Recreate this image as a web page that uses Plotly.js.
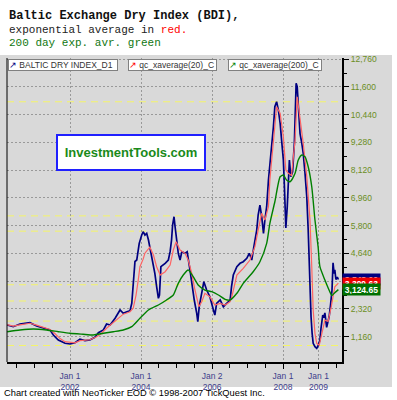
<!DOCTYPE html>
<html>
<head>
<meta charset="utf-8">
<script src="https://cdn.plot.ly/plotly-3.0.1.min.js"></script>
<style>html,body{margin:0;padding:0;background:#fff;}#chart{width:397px;height:400px;}</style>
</head>
<body>
<div id="chart"></div>
<script>
// ---- data (decimal years) ----
const bdiT = [2000.23,2000.40,2000.59,2000.87,2001.06,2001.30,2001.44,2001.53,2001.67,2001.86,
2002.00,2002.14,2002.28,2002.42,2002.56,2002.70,2002.80,2002.94,2003.03,2003.13,
2003.27,2003.41,2003.50,2003.60,2003.69,2003.74,2003.78,2003.83,2003.88,2003.95,
2004.02,2004.06,2004.11,2004.16,2004.21,2004.30,2004.39,2004.44,2004.49,2004.52,
2004.56,2004.68,2004.77,2004.82,2004.86,2004.89,2004.93,2004.96,2005.01,2005.05,
2005.10,2005.15,2005.24,2005.30,2005.38,2005.43,2005.50,2005.57,2005.60,2005.64,
2005.71,2005.77,2005.85,2005.94,2006.04,2006.08,2006.13,2006.23,2006.32,2006.41,
2006.51,2006.55,2006.60,2006.70,2006.79,2006.88,2006.98,2007.05,2007.12,2007.18,
2007.26,2007.30,2007.35,2007.40,2007.45,2007.49,2007.54,2007.59,2007.63,2007.68,
2007.73,2007.77,2007.82,2007.87,2007.92,2007.96,2008.01,2008.04,2008.06,2008.08,
2008.12,2008.15,2008.18,2008.22,2008.27,2008.32,2008.37,2008.40,2008.44,2008.48,
2008.53,2008.57,2008.62,2008.67,2008.71,2008.74,2008.76,2008.79,2008.82,2008.85,
2008.90,2008.95,2008.99,2009.02,2009.04,2009.07,2009.10,2009.12,2009.15,2009.18,
2009.23,2009.25,2009.30,2009.34,2009.38,2009.41,2009.44,2009.46,2009.49,2009.53,
2009.56];
const bdiV = [1647,1576,1689,1743,1605,1509,1438,1229,1020,882,
853,907,1049,991,1020,1133,1325,1438,1689,1647,
1927,2274,2136,2203,2245,2554,3300,4300,4364,5062,
5409,5547,5409,5480,5200,4502,3808,3248,2763,2901,
4084,4226,4364,4711,5200,5827,6174,5756,5062,4644,
4364,4711,4644,4711,3946,3390,2692,2136,1785,2412,
2972,3457,3110,2830,2274,2065,2554,2692,2412,2554,
2692,3248,3737,4084,4226,4293,4435,4644,4364,4920,
5618,6245,6663,6174,5480,6036,6592,7708,8264,8962,
9936,10772,10981,10634,10078,9380,8544,7428,6454,5700,
6600,7600,8544,7846,8055,9242,11750,11608,10634,9650,
9242,8824,8000,7000,5600,4084,2972,1994,1300,882,
740,673,780,900,1020,1500,1900,2065,1950,2150,
1550,1700,2000,2500,3100,4250,3800,3950,3550,3650,
3548];

const ema20T = [2000.23,2000.40,2000.59,2000.87,2001.06,2001.30,2001.44,2001.58,2001.72,2001.86,
2002.00,2002.14,2002.28,2002.42,2002.56,2002.75,2002.85,2003.03,2003.22,2003.32,
2003.50,2003.60,2003.69,2003.78,2003.86,2003.92,2003.97,2004.06,2004.11,2004.25,
2004.35,2004.44,2004.54,2004.68,2004.82,2004.91,2004.99,2005.10,2005.24,2005.33,
2005.43,2005.52,2005.63,2005.71,2005.80,2005.94,2006.08,2006.23,2006.37,2006.51,
2006.56,2006.70,2006.88,2007.07,2007.21,2007.30,2007.40,2007.49,2007.59,2007.63,
2007.73,2007.82,2007.92,2008.01,2008.08,2008.15,2008.24,2008.34,2008.40,2008.48,
2008.57,2008.67,2008.76,2008.81,2008.85,2008.90,2008.95,2009.02,2009.09,2009.18,
2009.27,2009.36,2009.46,2009.56];
const ema20V = [1660,1600,1650,1720,1640,1540,1460,1280,1080,950,
930,900,991,1000,1030,1158,1250,1509,1750,1850,
2100,2150,2200,2345,2900,3500,4084,4400,4650,4900,
4573,4084,3737,3875,4155,4782,5129,4782,4644,4364,
3808,3110,2412,2621,2972,2830,2480,2550,2480,2620,
2830,3737,4017,4364,4920,5618,6316,6036,6592,7708,
9242,10772,10495,9518,8126,7988,7900,9380,11190,10354,
9242,7846,6036,4084,2274,1300,882,800,1300,1856,
1800,2412,3248,3400];

const ema200T = [2000.23,2000.59,2000.97,2001.34,2001.67,2002.00,2002.37,2002.66,2002.94,2003.22,
2003.50,2003.74,2003.97,2004.21,2004.49,2004.72,2004.91,2005.05,2005.19,2005.33,
2005.47,2005.61,2005.80,2005.99,2006.18,2006.37,2006.51,2006.70,2006.88,2007.16,
2007.35,2007.54,2007.63,2007.77,2007.92,2008.01,2008.10,2008.20,2008.34,2008.43,
2008.53,2008.62,2008.71,2008.81,2008.90,2008.99,2009.04,2009.18,2009.34,2009.38,
2009.46,2009.56];
const ema200V = [1367,1438,1480,1438,1367,1300,1258,1229,1300,1367,
1438,1576,1927,2274,2483,2692,2901,3390,3737,3946,
3667,3319,3110,3039,2901,2721,2692,2972,3390,3875,
4293,5062,5900,6800,7846,7917,7708,7637,7988,8544,
8753,8682,8264,7428,6036,4900,4084,3528,2972,2880,
3000,3125];

const lastValues = [3548.00, 3399.63, 3124.65];   // BDI, EMA20, EMA200
const yellowLevels = [10980, 6210, 5570, 3330, 2650, 1810, 790];
const yTickVals = [1160,2320,3480,4640,5800,6960,8120,9280,10440,11600,12760];
const xTickVals = [2002.0, 2004.0, 2006.003, 2008.0, 2009.0];
const xTickText = ['Jan 1<br>2002','Jan 1<br>2004','Jan 2<br>2006','Jan 1<br>2008','Jan 1<br>2009'];
const legendNames = ['BALTIC DRY INDEX_D1','qc_xaverage(20)_C','qc_xaverage(200)_C'];

// ---- geometry helpers (pixel -> paper) ----
const L = 7, R = 342, T = 58, B = 362;
const px = v => (v - L) / (R - L);
const py = v => (B - v) / (B - T);
const fmt = v => v.toLocaleString('en-US', {minimumFractionDigits: 2, maximumFractionDigits: 2});

const SANS = 'Liberation Sans, Arial, sans-serif';
const MONO = 'Liberation Mono, Courier New, monospace';

const traces = [
  {x: bdiT, y: bdiV, type: 'scatter', mode: 'lines', line: {color: '#000080', width: 1.7}, hoverinfo: 'skip'},
  {x: ema20T, y: ema20V, type: 'scatter', mode: 'lines', line: {color: '#ff6464', width: 1.2}, hoverinfo: 'skip'},
  {x: ema200T, y: ema200V, type: 'scatter', mode: 'lines', line: {color: '#008000', width: 1.4, shape: 'spline', smoothing: 0.6}, hoverinfo: 'skip'}
];

const shapes = [
  {type: 'rect', xref: 'paper', yref: 'paper', x0: px(0), x1: px(392), y0: py(387), y1: py(55),
   fillcolor: '#d9d9d9', line: {width: 0}, layer: 'below'},
  {type: 'line', xref: 'paper', yref: 'paper', x0: 0, x1: 0, y0: 0, y1: 1, line: {color: '#000', width: 1}}
];
yellowLevels.forEach(v => shapes.push({
  type: 'line', xref: 'paper', yref: 'y', x0: 0, x1: 1, y0: v, y1: v,
  line: {color: '#f4f46a', width: 1, dash: '7px,5px'}, layer: 'below'
}));

const annotations = [
  {xref: 'paper', yref: 'paper', x: px(7), y: py(15.5), xanchor: 'left', yanchor: 'middle', showarrow: false,
   text: '<b>Baltic Exchange Dry Index (BDI),</b>', font: {family: MONO, size: 12, color: '#111'}},
  {xref: 'paper', yref: 'paper', x: px(7), y: py(30), xanchor: 'left', yanchor: 'middle', showarrow: false,
   text: 'exponential average in <span style="color:#ff0000">red.</span>', font: {family: MONO, size: 11, color: '#222'}},
  {xref: 'paper', yref: 'paper', x: px(7), y: py(43.5), xanchor: 'left', yanchor: 'middle', showarrow: false,
   text: '200 day exp. avr. green', font: {family: MONO, size: 11, color: '#117711'}},
  {xref: 'paper', yref: 'paper', x: px(131), y: py(152), xanchor: 'center', yanchor: 'middle', showarrow: false,
   text: '<b>InvestmentTools.com</b>', font: {family: SANS, size: 13, color: '#1a8a1a'},
   bgcolor: '#ffffff', bordercolor: '#2020ff', borderwidth: 2, borderpad: 1, width: 144, height: 31},
  {xref: 'paper', yref: 'paper', x: px(2), y: py(393), xanchor: 'left', yanchor: 'middle', showarrow: false,
   text: 'Chart created with NeoTicker EOD © 1998-2007 TickQuest Inc.', font: {family: SANS, size: 9.3, color: '#000'}}
];
const legBoxes = [[8, 118, '#000080'], [128, 217, '#ff0000'], [228, 322, '#008000']];
legendNames.forEach((n, i) => {
  const b = legBoxes[i];
  annotations.push({xref: 'paper', yref: 'paper', x: px(b[0]), y: py(64.5), xanchor: 'left', yanchor: 'middle',
    showarrow: false, align: 'left', text: '<span style="color:' + b[2] + '">↗</span> ' + n,
    font: {family: SANS, size: 8.5, color: '#333'}, bgcolor: '#fff', bordercolor: '#808080', borderwidth: 1,
    borderpad: 0, width: b[1] - b[0] - 2, height: 10});
});
const labelColors = ['#000080', '#ee0000', '#007000'];
lastValues.forEach((v, i) => annotations.push({
  xref: 'paper', yref: 'y', x: 1, y: v, xanchor: 'left', yanchor: 'middle', showarrow: false,
  text: '<b>' + fmt(v) + '</b>', font: {family: SANS, size: 8.5, color: '#fff'},
  bgcolor: labelColors[i], borderpad: 1, width: 35, height: 9
}));

const layout = {
  width: 397, height: 400,
  margin: {l: L, r: 397 - R, t: T, b: 400 - B, pad: 0},
  paper_bgcolor: '#ffffff', plot_bgcolor: '#d9d9d9',
  showlegend: false,
  xaxis: {
    type: 'linear', range: [2000.225, 2009.662], tickmode: 'array', tickvals: xTickVals, ticktext: xTickText,
    ticks: 'outside', ticklen: 5, tickcolor: '#000', showline: true, linecolor: '#000', linewidth: 2,
    showgrid: true, gridcolor: '#999999', griddash: '2px,2px', gridwidth: 1, zeroline: false,
    tickfont: {family: SANS, size: 8.5, color: '#40408c'},
    minor: {tickmode: 'linear', tick0: 2000, dtick: 0.5, ticks: 'outside', ticklen: 4, tickcolor: '#000', showgrid: false}
  },
  yaxis: {
    side: 'right', range: [100, 12810], tickmode: 'array', tickvals: yTickVals, tickformat: ',d',
    ticks: 'outside', ticklen: 5, tickcolor: '#000', showline: true, linecolor: '#000', linewidth: 2,
    showgrid: true, gridcolor: '#999999', griddash: '2px,2px', gridwidth: 1, zeroline: false,
    tickfont: {family: SANS, size: 8.5, color: '#6b8e23'},
    minor: {tickmode: 'linear', tick0: 0, dtick: 580, ticks: 'outside', ticklen: 3, tickcolor: '#000', showgrid: false}
  },
  shapes: shapes,
  annotations: annotations
};

Plotly.newPlot('chart', traces, layout, {staticPlot: true, displayModeBar: false});
</script>
</body>
</html>
